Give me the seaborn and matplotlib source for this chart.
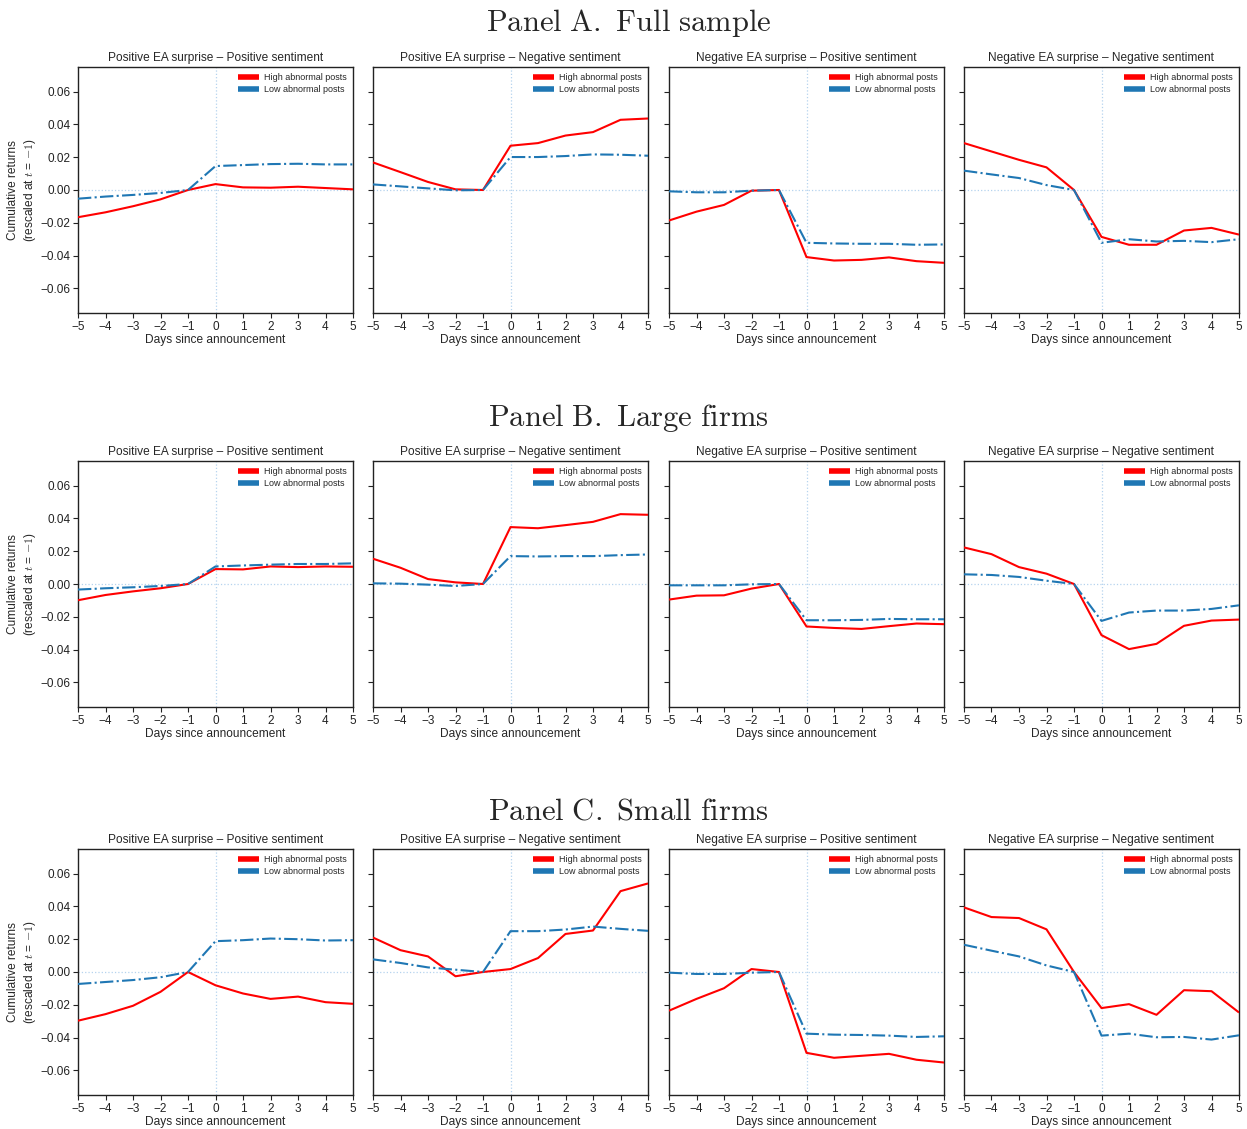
import matplotlib
matplotlib.use("Agg")
import matplotlib.pyplot as plt
import pandas as pd
import seaborn as sns

days = list(range(-5, 6))

panel_titles = ["Panel A. Full sample", "Panel B. Large firms", "Panel C. Small firms"]
subplot_titles = [
    "Positive EA surprise \u2013 Positive sentiment",
    "Positive EA surprise \u2013 Negative sentiment",
    "Negative EA surprise \u2013 Positive sentiment",
    "Negative EA surprise \u2013 Negative sentiment",
]
groups = ["High abnormal posts", "Low abnormal posts"]

# Panel A. Full sample
a_high = [
    [-0.0166, -0.0136, -0.0099, -0.0057, 0.0, 0.0036, 0.0016, 0.0014, 0.0020, 0.0012, 0.0004],
    [0.0168, 0.0109, 0.0049, 0.0004, 0.0, 0.0270, 0.0286, 0.0332, 0.0353, 0.0428, 0.0436],
    [-0.0186, -0.0132, -0.0091, -0.0004, 0.0, -0.0409, -0.0430, -0.0426, -0.0411, -0.0434, -0.0444],
    [0.0286, 0.0235, 0.0184, 0.0138, 0.0, -0.0286, -0.0334, -0.0334, -0.0247, -0.0231, -0.0272],
]
a_low = [
    [-0.0053, -0.0040, -0.0030, -0.0018, 0.0, 0.0146, 0.0152, 0.0158, 0.0160, 0.0156, 0.0156],
    [0.0034, 0.0022, 0.0010, -0.0002, 0.0, 0.0201, 0.0201, 0.0207, 0.0217, 0.0215, 0.0209],
    [-0.0008, -0.0014, -0.0014, -0.0004, 0.0, -0.0322, -0.0326, -0.0328, -0.0328, -0.0334, -0.0332],
    [0.0118, 0.0095, 0.0073, 0.0030, 0.0, -0.0322, -0.0300, -0.0314, -0.0310, -0.0318, -0.0300],
]

# Panel B. Large firms
b_high = [
    [-0.0099, -0.0067, -0.0045, -0.0026, 0.0, 0.0091, 0.0089, 0.0107, 0.0103, 0.0107, 0.0105],
    [0.0154, 0.0099, 0.0030, 0.0010, 0.0, 0.0347, 0.0340, 0.0359, 0.0379, 0.0426, 0.0422],
    [-0.0095, -0.0071, -0.0069, -0.0028, 0.0, -0.0259, -0.0268, -0.0274, -0.0257, -0.0241, -0.0245],
    [0.0223, 0.0182, 0.0103, 0.0063, 0.0, -0.0312, -0.0397, -0.0365, -0.0255, -0.0223, -0.0217],
]
b_low = [
    [-0.0034, -0.0026, -0.0020, -0.0012, 0.0, 0.0107, 0.0113, 0.0118, 0.0122, 0.0122, 0.0126],
    [0.0004, 0.0002, -0.0004, -0.0012, 0.0, 0.0170, 0.0168, 0.0170, 0.0170, 0.0176, 0.0180],
    [-0.0008, -0.0008, -0.0008, -0.0002, 0.0, -0.0221, -0.0221, -0.0219, -0.0213, -0.0215, -0.0215],
    [0.0059, 0.0055, 0.0043, 0.0020, 0.0, -0.0225, -0.0174, -0.0162, -0.0162, -0.0152, -0.0130],
]

# Panel C. Small firms
c_high = [
    [-0.0297, -0.0257, -0.0206, -0.0121, 0.0, -0.0081, -0.0131, -0.0164, -0.0150, -0.0184, -0.0194],
    [0.0210, 0.0133, 0.0095, -0.0026, 0.0, 0.0018, 0.0085, 0.0232, 0.0253, 0.0493, 0.0540],
    [-0.0236, -0.0164, -0.0099, 0.0018, 0.0, -0.0493, -0.0523, -0.0511, -0.0499, -0.0535, -0.0552],
    [0.0394, 0.0335, 0.0329, 0.0260, 0.0, -0.0220, -0.0196, -0.0261, -0.0111, -0.0117, -0.0247],
]
c_low = [
    [-0.0073, -0.0061, -0.0049, -0.0032, 0.0, 0.0188, 0.0194, 0.0204, 0.0200, 0.0192, 0.0194],
    [0.0077, 0.0055, 0.0028, 0.0014, 0.0, 0.0249, 0.0249, 0.0259, 0.0277, 0.0263, 0.0251],
    [-0.0004, -0.0012, -0.0012, -0.0004, 0.0, -0.0376, -0.0382, -0.0384, -0.0388, -0.0396, -0.0392],
    [0.0166, 0.0130, 0.0095, 0.0040, 0.0, -0.0388, -0.0376, -0.0398, -0.0396, -0.0412, -0.0386],
]

panels = [(a_high, a_low), (b_high, b_low), (c_high, c_low)]

sns.set_theme(style="ticks")
plt.rcParams["font.family"] = ["Liberation Sans", "DejaVu Sans"]
plt.rcParams["mathtext.fontset"] = "cm"
plt.rcParams["axes.edgecolor"] = "#222222"
plt.rcParams["axes.linewidth"] = 1.0
plt.rcParams["lines.solid_capstyle"] = "butt"

palette = {groups[0]: "#ff0000", groups[1]: "#1f77b4"}
dashes = {groups[0]: "", groups[1]: (6.4, 1.6, 1.0, 1.6)}
ref_color = "#b5d3ee"

fig = plt.figure(figsize=(12.47, 11.29), dpi=100)
W, H = 1247.0, 1129.0
col_left = [78, 373, 669, 964]
row_top = [67, 461, 849]
ax_w, ax_h = 275, 246
panel_title_y = [23, 418, 812]

for r, (high, low) in enumerate(panels):
    title_math = r"$\mathrm{" + panel_titles[r].replace(" ", r"\ ") + "}$"
    fig.text(0.504, 1 - panel_title_y[r] / H, title_math, ha="center", va="center", fontsize=22)
    for c in range(4):
        ax = fig.add_axes([col_left[c] / W, 1 - (row_top[r] + ax_h) / H, ax_w / W, ax_h / H])
        df = pd.DataFrame({
            "day": days * 2,
            "ret": list(high[c]) + list(low[c]),
            "group": [groups[0]] * len(days) + [groups[1]] * len(days),
        })
        ax.axvline(0, color=ref_color, ls=":", lw=0.9, zorder=1)
        ax.axhline(0, color=ref_color, ls=":", lw=0.9, zorder=1)
        sns.lineplot(data=df, x="day", y="ret", hue="group", style="group",
                     palette=palette, dashes=dashes, linewidth=1.5, ax=ax, zorder=3)
        handles, labels = ax.get_legend_handles_labels()
        leg = ax.legend(handles, labels, loc="upper right", frameon=False, fontsize=6.5,
                        handlelength=2.3, handletextpad=0.6, labelspacing=0.35,
                        borderaxespad=0.3)
        for line in leg.get_lines():
            line.set_linewidth(4)
            line.set_solid_capstyle("butt")
            line.set_dash_capstyle("butt")
        ax.set_xlim(-5, 5)
        ax.set_ylim(-0.075, 0.075)
        ax.set_xticks(days)
        ax.set_yticks([-0.06, -0.04, -0.02, 0.0, 0.02, 0.04, 0.06])
        ax.tick_params(labelsize=8.5, length=3.5, width=0.8, pad=2, colors="#222222")
        ax.set_title(subplot_titles[c], fontsize=8.6, pad=4)
        ax.set_xlabel("Days since announcement", fontsize=8.6, labelpad=1)
        if c == 0:
            ax.set_ylabel("Cumulative returns\n(rescaled at $t$ = $-1$)", fontsize=8.6, labelpad=2)
        else:
            ax.set_ylabel("")
            ax.set_yticklabels([])
        for s in ax.spines.values():
            s.set_visible(True)

fig.savefig("out.png", dpi=100)
